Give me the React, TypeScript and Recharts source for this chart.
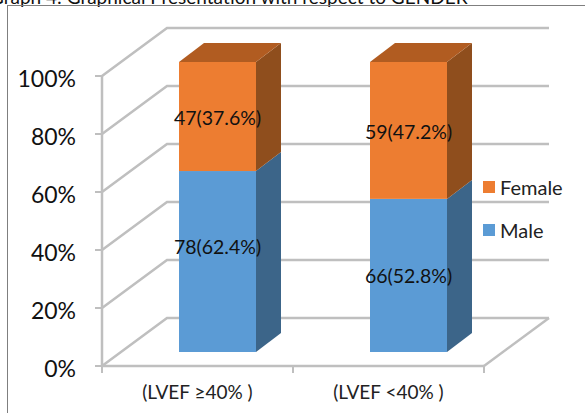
import { Bar, BarChart, CartesianGrid, LabelList, Legend, XAxis, YAxis } from 'recharts'

const categories = ['(LVEF ≥40% )', '(LVEF <40% )']
const maleCounts = [78, 66]
const femaleCounts = [47, 59]
const malePercents = ['62.4', '52.8']
const femalePercents = ['37.6', '47.2']
const yTicks = [0, 0.2, 0.4, 0.6, 0.8, 1]
const legendItems = [
  { name: 'Female', color: '#ed7d31' },
  { name: 'Male', color: '#5b9bd5' },
]

const chartData = categories.map((name, i) => ({
  name,
  male: maleCounts[i],
  female: femaleCounts[i],
  maleLabel: `${maleCounts[i]}(${malePercents[i]}%)`,
  femaleLabel: `${femaleCounts[i]}(${femalePercents[i]}%)`,
}))

const FONT = 'Lato, "Open Sans", sans-serif'
const GRID = '#bfbfbf'
const BAND = 191
const WALL_DX = 65
const WALL_DY = 48
const BAR_DX = 20
const BAR_DY = -14
const DEPTH_X = 25
const DEPTH_Y = 19

// fake 3D: back wall gridlines bent from the front axis
function WallLine(props: any) {
  const { x1, x2, y1 } = props
  const bx = x1 + WALL_DX
  const ex = x2 + WALL_DX
  const by = y1 - WALL_DY
  return (
    <g fill="none" stroke={GRID} strokeWidth={2.5}>
      <polyline points={`${x1},${y1} ${bx},${by} ${ex},${by}`} />
      {y1 > 340 ? <line x1={x2} y1={y1} x2={ex} y2={by} /> : null}
    </g>
  )
}

function Box(props: any) {
  const { x, y, width, height, fill, sideFill, topFill } = props
  const l = x + BAR_DX
  const r = l + width
  const t = y + BAR_DY
  const b = t + height
  return (
    <g>
      <polygon
        points={`${r},${t} ${r + DEPTH_X},${t - DEPTH_Y} ${r + DEPTH_X},${b - DEPTH_Y} ${r},${b}`}
        fill={sideFill}
      />
      {topFill ? (
        <polygon
          points={`${l},${t} ${l + DEPTH_X},${t - DEPTH_Y} ${r + DEPTH_X},${t - DEPTH_Y} ${r},${t}`}
          fill={topFill}
        />
      ) : null}
      <rect x={l} y={t} width={width} height={height} fill={fill} />
    </g>
  )
}

function BoxLabel(props: any) {
  const { x, y, width, height, value, index, lift } = props
  const extra = lift ? lift[index] : 0
  return (
    <text
      x={x + BAR_DX + width / 2}
      y={y + BAR_DY + height / 2 + extra}
      textAnchor="middle"
      dominantBaseline="central"
      fontFamily={FONT}
      fontSize={19.5}
      fill="#111"
    >
      {value}
    </text>
  )
}

function CategoryTick(props: any) {
  const { x, y, payload } = props
  return (
    <g>
      <line x1={x - BAND / 2} y1={y - 8} x2={x - BAND / 2} y2={y - 1} stroke={GRID} strokeWidth={2} />
      <line x1={x + BAND / 2} y1={y - 8} x2={x + BAND / 2} y2={y - 1} stroke={GRID} strokeWidth={2} />
      <text x={x} y={y + 25} textAnchor="middle" fontFamily={FONT} fontSize={19} fill="#222">
        {payload.value}
      </text>
    </g>
  )
}

function LegendBox() {
  return (
    <div style={{ fontFamily: FONT, fontSize: 20, color: '#222' }}>
      {legendItems.map((item) => (
        <div key={item.name} style={{ display: 'flex', alignItems: 'center', height: 43 }}>
          <span style={{ width: 12, height: 12, background: item.color, marginRight: 5 }} />
          {item.name}
        </div>
      ))}
    </div>
  )
}

export default function App() {
  return (
    <div style={{ position: 'absolute', left: 0, top: 0, width: 585, height: 413, overflow: 'hidden', background: '#fff' }}>
      <div
        style={{
          position: 'absolute',
          left: -10,
          top: -15,
          whiteSpace: 'nowrap',
          fontFamily: FONT,
          fontSize: 19,
          color: '#111',
        }}
      >
        Graph 4: Graphical Presentation with respect to GENDER
      </div>
      <div style={{ position: 'absolute', left: 7, top: 5, width: 590, height: 420, border: '1px solid #7f7f7f' }} />
      <BarChart
        width={585}
        height={413}
        data={chartData}
        stackOffset="expand"
        barSize={77}
        margin={{ top: 76, right: 101, bottom: 17, left: 0 }}
        style={{ position: 'absolute', left: 0, top: 0 }}
      >
        <CartesianGrid vertical={false} horizontal={(p: any) => <WallLine key={p.key} {...p} />} syncWithTicks />
        <XAxis
          dataKey="name"
          height={30}
          axisLine={{ stroke: GRID, strokeWidth: 2.5 }}
          tickLine={false}
          interval={0}
          tick={<CategoryTick />}
        />
        <YAxis
          width={102}
          domain={[0, 1]}
          ticks={yTicks}
          interval={0}
          tickFormatter={(v: number) => `${Math.round(v * 100)}%`}
          axisLine={{ stroke: GRID, strokeWidth: 2.5 }}
          tickLine={{ stroke: GRID, strokeWidth: 2 }}
          tickSize={7}
          tickMargin={19}
          tick={{ fontFamily: FONT, fontSize: 23, fill: '#111', dy: 3 }}
        />
        <Legend
          layout="vertical"
          align="center"
          verticalAlign="middle"
          content={<LegendBox />}
          wrapperStyle={{ left: 483, top: 165, width: 100 }}
        />
        <Bar
          dataKey="male"
          stackId="a"
          fill="#5b9bd5"
          isAnimationActive={false}
          shape={<Box sideFill="#3c6589" />}
        >
          <LabelList dataKey="maleLabel" content={<BoxLabel lift={[-15, 0]} />} />
        </Bar>
        <Bar
          dataKey="female"
          stackId="a"
          fill="#ed7d31"
          isAnimationActive={false}
          shape={<Box sideFill="#8f4e1d" topFill="#b15c21" />}
        >
          <LabelList dataKey="femaleLabel" content={<BoxLabel lift={[1, 1]} />} />
        </Bar>
      </BarChart>
    </div>
  )
}
